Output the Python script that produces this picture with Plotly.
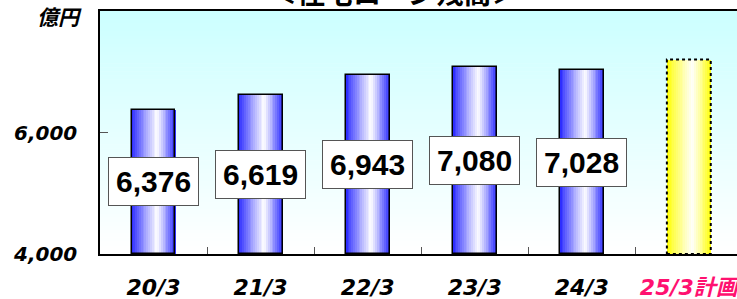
import plotly.graph_objects as go

# ---- data ----
categories = ["20/3", "21/3", "22/3", "23/3", "24/3", "25/3計画"]
actual_values = [6376, 6619, 6943, 7080, 7028]
plan_value = 7200
value_labels = ["6,376", "6,619", "6,943", "7,080", "7,028"]
y_tick_vals = [4000, 6000]
y_tick_text = ["4,000", "6,000"]
title_text = "＜住宅ローン残高＞"
unit_text = "億円"

W, H = 737, 299
ML, MT, MB, MR = 100, 11, 45, 0
PH = H - MT - MB
PW = W - ML - MR
BAR_W = 0.41
Y0, Y1 = 4000, 8000

fig = go.Figure()

n_actual = len(actual_values)
x_actual = categories[:n_actual]
x_plan = [categories[-1]]

def mix(c1, c2, f):
    return "rgb(%d,%d,%d)" % tuple(round(a * (1 - f) + b * f) for a, b in zip(c1, c2))

def shade(t, t0=0.58):
    d = t0 if t < t0 else 1 - t0
    f = max(0.0, 1 - abs(t - t0) / d)
    return f ** 0.9

N = 24
sw = BAR_W / N
for i in range(N):
    t = (i + 0.5) / N
    f = shade(t)
    off = -BAR_W / 2 + i * sw
    fig.add_trace(go.Bar(x=x_actual, y=[v - Y0 for v in actual_values], base=Y0,
                         width=sw * 1.25, offset=off,
                         marker=dict(color=mix((35, 35, 255), (255, 255, 255), f), line=dict(width=0)),
                         hoverinfo="skip", showlegend=False))
    fig.add_trace(go.Bar(x=x_plan, y=[plan_value - Y0], base=Y0,
                         width=sw * 1.25, offset=off,
                         marker=dict(color=mix((255, 255, 0), (255, 255, 255), f), line=dict(width=0)),
                         hoverinfo="skip", showlegend=False))

# outline for actual bars
fig.add_trace(go.Bar(x=x_actual, y=[v - Y0 for v in actual_values], base=Y0,
                     width=BAR_W, marker=dict(color="rgba(0,0,0,0)", line=dict(color="black", width=1.5)),
                     hoverinfo="skip", showlegend=False))

# dashed outline for plan bar
pi = len(categories) - 1
fig.add_shape(type="rect", xref="x", yref="y", x0=pi - BAR_W / 2, x1=pi + BAR_W / 2,
              y0=Y0, y1=plan_value, line=dict(color="black", width=2, dash="3px,3px"),
              fillcolor="rgba(0,0,0,0)", layer="above")

# background gradient
NB = 60
top_c, bot_c = (204, 255, 255), (255, 255, 255)
for i in range(NB):
    f = i / (NB - 1)
    fig.add_shape(type="rect", xref="paper", yref="paper", x0=0, x1=1,
                  y0=i / NB, y1=(i + 1) / NB + 0.002,
                  fillcolor=mix(bot_c, top_c, f), line=dict(width=0), layer="below")

# value labels
for cat, v, lab in zip(x_actual, actual_values, value_labels):
    fig.add_annotation(x=cat, y=(Y0 + v) / 2, text="<b>%s</b>" % lab, showarrow=False,
                       font=dict(family="Liberation Sans, Arial", size=30, color="black"),
                       bgcolor="white", bordercolor="#555555", borderwidth=1, borderpad=7)

# title (cut off at the top edge, as in the reference)
fig.add_annotation(xref="paper", yref="paper", x=(394 - ML) / PW, xanchor="center",
                   y=1.0 + (MT + 8) / PH, yanchor="middle",
                   text="<b>%s</b>" % title_text, showarrow=False,
                   font=dict(family="Noto Sans CJK JP", size=28, color="black"))

# unit
fig.add_annotation(xref="paper", yref="paper", x=(35 - ML) / PW, xanchor="left",
                   y=1 + (MT - 16) / PH, yanchor="middle",
                   text="<b><i>%s</i></b>" % unit_text, showarrow=False,
                   font=dict(family="Noto Sans CJK JP", size=21, color="black"))

ticktext_x = ["<b><i>%s</i></b>" % c if c != categories[-1] else
              "<b><i><span style='color:#FF1170'>%s</span></i></b>" % c for c in categories]

fig.update_layout(
    width=W, height=H,
    margin=dict(l=ML, r=MR, t=MT, b=MB, autoexpand=False),
    paper_bgcolor="white", plot_bgcolor="white",
    barmode="overlay", bargap=0,
    xaxis=dict(type="category", range=[-0.5, 5.45], tickmode="array",
               tickvals=categories, ticktext=ticktext_x, automargin=False,
               ticks="inside", tickson="boundaries", ticklen=7, tickcolor="#555555",
               showline=True, linecolor="black", linewidth=1.5, mirror=True,
               showgrid=False, ticklabelstandoff=13,
               tickfont=dict(family="DejaVu Sans, Noto Sans CJK JP", size=22, color="black")),
    yaxis=dict(range=[Y0, Y1], tickmode="array", tickvals=y_tick_vals, automargin=False,
               ticktext=["<b><i>%s</i></b>" % t for t in y_tick_text],
               ticks="inside", ticklen=8, tickcolor="#555555",
               showline=True, linecolor="black", linewidth=1.5, mirror=True,
               showgrid=False, zeroline=False, ticklabelstandoff=17,
               tickfont=dict(family="DejaVu Sans", size=20, color="black")),
)

fig.write_html("out.html", post_script="document.body.style.margin='0';",
               config={"displayModeBar": False})
